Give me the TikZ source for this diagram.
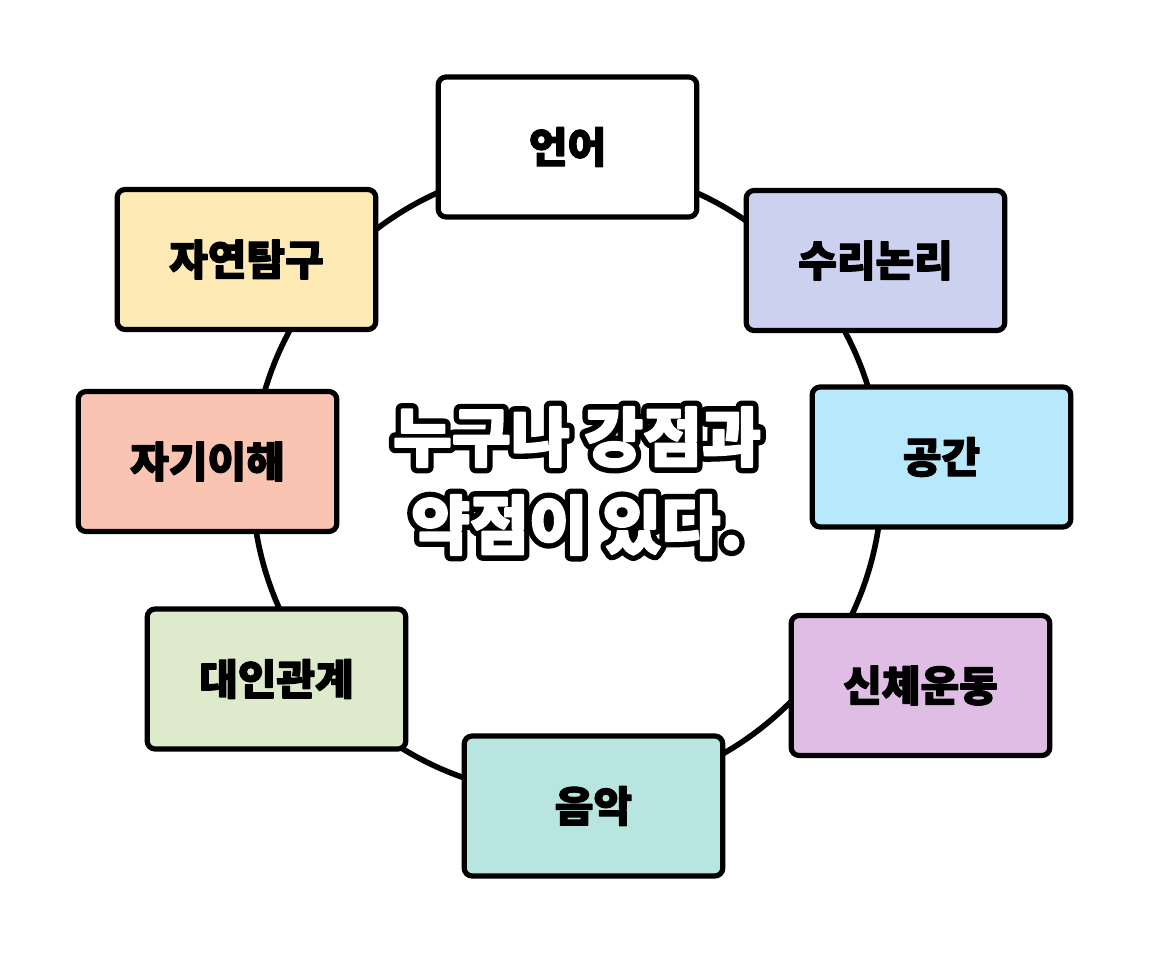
\documentclass[tikz,border=0pt]{standalone}
\usepackage{fontspec}
\usetikzlibrary{calc}
\newfontfamily\kr{Noto Sans CJK KR}
\definecolor{cwhite}{HTML}{FFFFFF}
\definecolor{cmath}{HTML}{CDD1F0}
\definecolor{cspace}{HTML}{B8E8FC}
\definecolor{cbody}{HTML}{E0BDE5}
\definecolor{cmusic}{HTML}{B8E5E0}
\definecolor{cinter}{HTML}{DDEACB}
\definecolor{cintra}{HTML}{F9C5B2}
\definecolor{cnature}{HTML}{FDEAB4}
\newcommand{\heavy}[2]{\special{pdf:literal direct 2 Tr #1 w 1 j 1 J}#2\special{pdf:literal direct 0 Tr 1 w}}
\tikzset{
  card/.style={draw=black, line width=3.9pt, rounded corners=6pt,
    minimum width=194pt, minimum height=105pt, inner sep=0pt,
    font=\kr\bfseries\fontsize{31.5}{36}\selectfont, text=black},
  ring/.style={draw=black, line width=4.2pt},
  bigtxt/.style={font=\kr\bfseries\fontsize{48}{66}\selectfont, align=center, inner sep=0pt}
}
\begin{document}
\begin{tikzpicture}[x=0.75pt,y=-0.75pt]
\useasboundingbox (0,0) rectangle (1149,956);
\coordinate (ctr) at (567,480);
\draw[ring] (ctr) circle[radius=315];
\node[card, fill=cwhite]  (lang)   at (567.5,147) {\heavy{0.9}{언어}};
\node[card, fill=cmath]   (logic)  at (875.5,260.5) {\heavy{0.9}{수리논리}};
\node[card, fill=cspace]  (space)  at (941.5,457) {\heavy{0.9}{공간}};
\node[card, fill=cbody]   (body)   at (920.5,685.5) {\heavy{0.9}{신체운동}};
\node[card, fill=cmusic]  (music)  at (593.5,806) {\heavy{0.9}{음악}};
\node[card, fill=cinter]  (inter)  at (276.5,679) {\heavy{0.9}{대인관계}};
\node[card, fill=cintra]  (intra)  at (207.5,461.5) {\heavy{0.9}{자기이해}};
\node[card, fill=cnature] (nature) at (246.5,259.5) {\heavy{0.9}{자연탐구}};
\coordinate (tc) at (577,481);
\node[bigtxt, text=black] (outline) at (tc)
  {\special{pdf:literal direct 2 Tr 9.5 w 1 j 1 J}누구나 강점과\\약점이 있다.\special{pdf:literal direct 0 Tr 1 w}};
\node[bigtxt, text=white] (title) at (tc)
  {\special{pdf:literal direct 2 Tr 1.5 w 1 j 1 J}누구나 강점과\\약점이 있다.\special{pdf:literal direct 0 Tr 1 w}};
\end{tikzpicture}
\end{document}
